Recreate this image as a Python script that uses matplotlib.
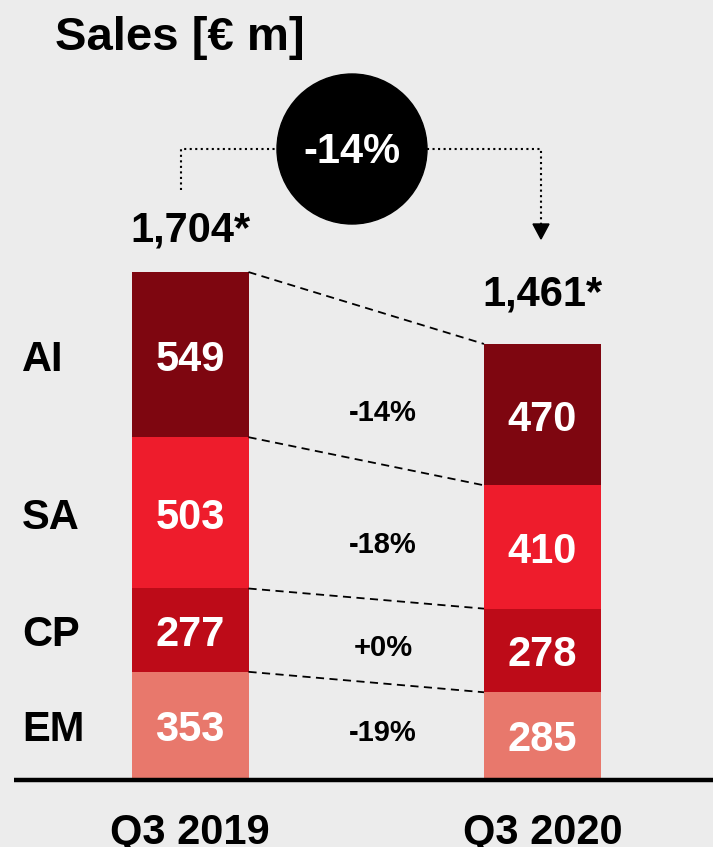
import numpy as np
import matplotlib
matplotlib.use('Agg')
import matplotlib.pyplot as plt
from matplotlib.patches import Circle, Polygon
from matplotlib.transforms import blended_transform_factory

plt.rcParams['font.family'] = ['Liberation Sans', 'DejaVu Sans']
plt.rcParams['font.weight'] = 'bold'

# data (bottom to top)
periods = ['Q3 2019', 'Q3 2020']
segments = ['EM', 'CP', 'SA', 'AI']
em = np.array([353, 285])
cp = np.array([277, 278])
sa = np.array([503, 410])
ai = np.array([549, 470])
totals = ['1,704*', '1,461*']
changes = ['-19%', '+0%', '-18%', '-14%']
total_change = '-14%'
colors = ['#e8786c', '#bd0b18', '#ee1c2c', '#7e0610']
bg = '#ececec'

# layout in pixels
W, H = 713, 847
base_px = 778
scale = 0.3008          # px per € m
c1, c2 = 190, 542.5     # bar centres
unit = c2 - c1

fig = plt.figure(figsize=(W / 100, H / 100), dpi=100, facecolor=bg)
ax = fig.add_axes([0, (H - base_px) / H, 1, base_px / H])
ax.set_facecolor(bg)
ax.set_ylim(0, base_px / scale)
ax.set_xlim(-c1 / unit, (W - c1) / unit)
ax.axis('off')

# overlay in figure pixels, y going down
ov = fig.add_axes([0, 0, 1, 1], zorder=5)
ov.set_xlim(0, W)
ov.set_ylim(H, 0)
ov.axis('off')
ov.patch.set_alpha(0)

x = np.arange(2)
w = 117 / unit
pct_x = (383 - c1) / unit
left_tr = blended_transform_factory(ax.transAxes, ax.transData)

bottom = np.zeros(2)
for vals, col, name, chg in zip([em, cp, sa, ai], colors, segments, changes):
    ax.bar(x, vals, w, bottom=bottom, color=col, linewidth=0)
    centers = bottom + vals / 2
    for xi, v, cy in zip(x, vals, centers):
        ax.annotate(str(v), (xi, cy), xytext=(0, -5), textcoords='offset pixels',
                    color='white', fontsize=30, ha='center', va='center')
    ax.annotate(name, (22 / W, centers[0]), xycoords=left_tr, xytext=(0, -5),
                textcoords='offset pixels', fontsize=30, ha='left', va='center')
    ax.annotate(chg, (pct_x, centers[1]), xytext=(0, 2), textcoords='offset pixels',
                fontsize=21, ha='center', va='center')
    bottom = bottom + vals
    # dashed connector between segment tops
    ax.plot([x[0] + w / 2, x[1] - w / 2], [bottom[0], bottom[1]], color='black',
            lw=1.3, linestyle=(0, (4.5, 3)))

# totals above bars
for xi, top, lab, off in zip(x, bottom, totals, [42, 49]):
    ax.annotate(lab, (xi, top), xytext=(0, off), textcoords='offset pixels',
                fontsize=30, ha='center', va='center')

# baseline
ov.plot([14, W], [780, 780], color='black', lw=3.2, solid_capstyle='butt')

# period labels
lab_tr = blended_transform_factory(ax.transData, ov.transData)
for xi, p in zip(x, periods):
    ov.text(xi, 844, p, transform=lab_tr, fontsize=30, ha='center', va='baseline')

# title
ov.text(55, 50, 'Sales [€ m]', fontsize=34, ha='left', va='baseline')

# change circle with dotted bracket
ov.add_patch(Circle((352, 149), 75, color='black'))
ov.text(352, 152, total_change, color='white', fontsize=30, ha='center', va='center')
ov.plot([181, 181, 277], [190, 149, 149], color='black', lw=1.5, linestyle=':')
ov.plot([427, 541, 541], [149, 149, 225], color='black', lw=1.5, linestyle=':')
ov.add_patch(Polygon([[533, 224], [549, 224], [541, 239]], color='black'))

fig.savefig('out.png', dpi=100, facecolor=bg)
